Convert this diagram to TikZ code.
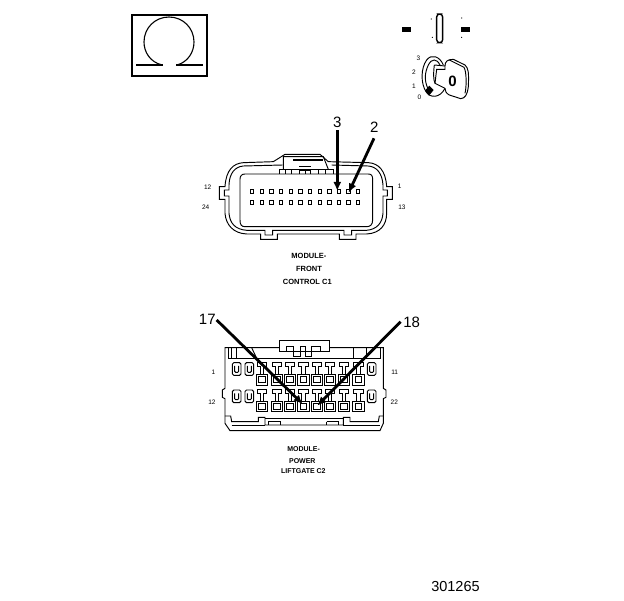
\documentclass[tikz,border=0pt]{standalone}
\usepackage{fontspec}
\setmainfont{Liberation Sans}
\usetikzlibrary{arrows.meta}
\tikzset{
  ln/.style={line width=0.95pt,line join=miter},
  thick box/.style={line width=2pt},
  callout/.style={font=\fontsize{15}{15}\selectfont,inner sep=0pt},
  pinno/.style={font=\fontsize{6.5}{7}\selectfont,inner sep=0pt},
  cap text/.style={font=\bfseries\fontsize{7.5}{8}\selectfont,inner sep=0pt},
  cap small/.style={font=\bfseries\fontsize{7}{8}\selectfont,inner sep=0pt},
  big arrow/.style={line width=2.8pt,-{Latex[length=9pt,width=8pt]}},
  zoomed/.style 2 args={shift={(#1,#2)},x=0.3333pt,y=-0.3333pt},
}
\begin{document}
\begin{tikzpicture}[x=1pt,y=-1pt]
\useasboundingbox (0,0) rectangle (624,600);
% ---- ohm symbol
\draw[thick box] (132,15) rectangle (207,76);
\draw[line width=1.1pt] (162,65) .. controls (150,62) and (144,52) .. (144,42) .. controls (144,28) and (155,17) .. (169,17) .. controls (183,17) and (194,28) .. (194,42) .. controls (194,52) and (188,62) .. (177,65);
\draw[line width=2.2pt] (136,65) -- (163,65) (176,65) -- (203,65);
% ---- key switch
\begin{scope}[zoomed={390}{0}]
\fill (36,80) rectangle (62,95);
\fill (213,80) rectangle (241,95);
\draw[line width=1.4pt,rounded corners=3pt] (140,42) rectangle (158,128);
\fill (124,57) circle[radius=0.6pt] (127,112) circle[radius=0.6pt] (215,54) circle[radius=0.6pt] (215,112) circle[radius=0.6pt];
\node[pinno] (k3) at (85,175) {3};
\node[pinno] (k2) at (72,218) {2};
\node[pinno] (k1) at (72,260) {1};
\node[pinno] (k0) at (88,293) {0};
% ring
\draw[ln] (160,195) .. controls (150,170) and (125,160) .. (110,180) .. controls (92,205) and (92,250) .. (108,275) .. controls (120,295) and (150,295) .. (165,265);
\draw[ln] (150,195) .. controls (140,175) and (125,175) .. (115,195) .. controls (103,220) and (103,245) .. (115,268);
\draw[ln] (133,195) -- (165,198) -- (165,208) -- (140,208) -- (135,250) -- (165,265);
\draw[ln] (133,195) .. controls (130,220) and (130,240) .. (135,250);
% bow
\draw[ln] (165,198) .. controls (165,185) and (172,178) .. (190,178) -- (225,195) .. controls (235,205) and (237,215) .. (235,260) .. controls (232,285) and (225,295) .. (212,296) -- (178,285) .. controls (168,280) and (165,272) .. (165,265);
\draw[ln] (178,180) -- (222,202) .. controls (230,215) and (230,260) .. (225,280);
\node[font=\bfseries\fontsize{15}{15}\selectfont,inner sep=0pt] (kz) at (188,245) {0};
\fill (105,272) -- (118,257) -- (131,270) -- (117,287) -- cycle;
\end{scope}
% ---- connector C1
\begin{scope}[zoomed={190}{110}]
\draw[ln] (250,155) -- (160,158) .. controls (130,160) and (108,180) .. (105,230) -- (88,230) -- (88,268) -- (105,268) -- (105,310) .. controls (108,345) and (130,370) .. (170,372) -- (212,372) -- (212,388) -- (262,388) -- (262,372) -- (448,372) -- (448,388) -- (498,388) -- (498,372) -- (530,372) .. controls (570,370) and (590,345) .. (590,310) -- (590,268) -- (607,268) -- (607,230) -- (590,230) .. controls (587,180) and (565,160) .. (535,158) -- (415,155) -- (390,133) -- (285,133) -- (250,155) -- cycle;
\draw[ln] (278,165) -- (160,168) .. controls (135,170) and (118,190) .. (117,225) -- (117,240) -- (103,240) -- (103,258) -- (117,258) -- (117,310) .. controls (120,340) and (135,358) .. (170,361) -- (225,361) -- (225,375) -- (248,375) -- (248,361) -- (462,361) -- (462,375) -- (485,375) -- (485,361) -- (530,361) .. controls (560,358) and (577,340) .. (579,310) -- (579,258) -- (592,258) -- (592,240) -- (579,240) -- (579,225) .. controls (577,190) and (560,170) .. (535,168) -- (425,165);
\draw[ln] (165,192) -- (535,192) .. controls (545,192) and (548,198) .. (548,208) -- (548,330) .. controls (548,345) and (540,350) .. (530,350) -- (165,350) .. controls (155,350) and (150,345) .. (150,330) -- (150,208) .. controls (150,198) and (155,192) .. (165,192) -- cycle;
% latch
\draw[ln] (268,178) -- (430,178) (268,192) -- (268,178) (430,192) -- (430,178);
\draw[ln] (280,178) -- (280,140) -- (400,140) -- (415,178);
\draw[line width=1.2pt] (310,150) -- (400,150) (328,170) -- (362,170) (328,180) -- (362,180);
\foreach \x in {285,305,328,345,362,385,405} \draw[ln] (\x,178) -- (\x,192);
% pins
\foreach \x in {187,216,245,274,303,332,361,390,419,447,476,505} {
  \draw[line width=1pt] (\x-5,240) rectangle (\x+5,250);
  \draw[line width=1pt] (\x-5,273) rectangle (\x+5,283);
}
\node[callout] (c3) at (442,38) {3};
\node[callout] (c2) at (553,52) {2};
\coordinate (s3) at (442,60);
\coordinate (s2) at (552,85);
\coordinate (t3) at (442,243);
\coordinate (t2) at (476,248);
\node[pinno] (p12) at (53,232) {12};
\node[pinno] (p24) at (47,292) {24};
\node[pinno] (p1) at (629,229) {1};
\node[pinno] (p13) at (636,292) {13};
\node[cap text] (a1) at (357,439) {MODULE-};
\node[cap text] (a2) at (357,476) {FRONT};
\node[cap text] (a3) at (352,516) {CONTROL C1};
\draw[big arrow] (s3) -- (t3);
\draw[big arrow] (s2) -- (t2);
\end{scope}
% ---- connector C2
\begin{scope}[zoomed={190}{310}]
\draw[ln] (268,113) -- (105,113) -- (105,235) -- (97,240) -- (97,262) -- (105,266) -- (105,340) -- (120,362) -- (570,362) -- (580,340) -- (580,266) -- (588,262) -- (588,240) -- (580,235) -- (580,113) -- (418,113);
\draw[ln] (268,125) -- (268,92) -- (418,92) -- (418,125) -- (268,125);
\draw[ln] (290,125) -- (290,110) -- (310,110) -- (310,138) -- (330,138) -- (330,110) -- (345,110) -- (345,138) -- (365,138) -- (365,110) -- (390,110) -- (390,125);
\draw[ln] (115,113) -- (115,145) -- (570,145) -- (570,113);
\draw[ln] (125,113) -- (125,145) (138,113) -- (138,145) (490,113) -- (490,145) (530,113) -- (530,145);
\draw[ln] (185,113) -- (200,145);
% lower rail
\draw[ln] (105,318) -- (122,318) -- (125,335) -- (205,335) -- (205,322) -- (225,322) -- (225,345) -- (460,345) -- (460,322) -- (480,322) -- (480,335) -- (565,335) -- (568,318) -- (580,318);
\draw[ln] (225,325) -- (460,325);
\draw[ln] (125,345) -- (225,345) (460,345) -- (570,345);
\draw[ln] (235,335) -- (270,335) -- (270,345) (235,335) -- (235,345) (410,335) -- (445,335) -- (445,345) (410,335) -- (410,345);
% small rounded pins
\foreach \x/\y in {140/178,178/178,140/260,178/260,545/178,545/260} {
  \draw[ln,rounded corners=1.5pt] (\x-13,\y-20) rectangle (\x+13,\y+18);
  \draw[ln,rounded corners=1pt] (\x-6,\y-10) -- (\x-6,\y+9) -- (\x+6,\y+9) -- (\x+6,\y-10);
}
% T pins and squares
\foreach \x in {215,260,300,340,380,420,462,505} {
  \draw[ln] (\x-17,193) rectangle (\x+17,225);
  \draw[ln] (\x-10,200) rectangle (\x+10,218);
  \draw[ln] (\x-17,273) rectangle (\x+17,305);
  \draw[ln] (\x-10,280) rectangle (\x+10,298);
  \draw[ln] (\x-5,193) -- (\x-5,170) -- (\x-14,170) -- (\x-14,158) -- (\x+14,158) -- (\x+14,170) -- (\x+5,170) -- (\x+5,193);
  \draw[ln] (\x-5,273) -- (\x-5,250) -- (\x-14,250) -- (\x-14,238) -- (\x+14,238) -- (\x+14,250) -- (\x+5,250) -- (\x+5,273);
}
\node[callout] (c17) at (52,28) {17};
\node[callout] (c18) at (665,37) {18};
\coordinate (t17) at (338,282);
\coordinate (t18) at (382,287);
\coordinate (s17) at (80,30);
\coordinate (s18) at (632,35);
\node[pinno] (q1) at (70,187) {1};
\node[pinno] (q12) at (66,277) {12};
\node[pinno] (q11) at (614,187) {11};
\node[pinno] (q22) at (613,277) {22};
\node[cap small] (b1) at (341,417) {MODULE-};
\node[cap small] (b2) at (337,452) {POWER};
\node[cap small] (b3) at (340,484) {LIFTGATE C2};
\draw[big arrow] (s17) -- (t17);
\draw[big arrow] (s18) -- (t18);
\end{scope}
\node[font=\fontsize{14.5}{15}\selectfont,inner sep=0pt] (num) at (455.5,587) {301265};
\end{tikzpicture}
\end{document}
